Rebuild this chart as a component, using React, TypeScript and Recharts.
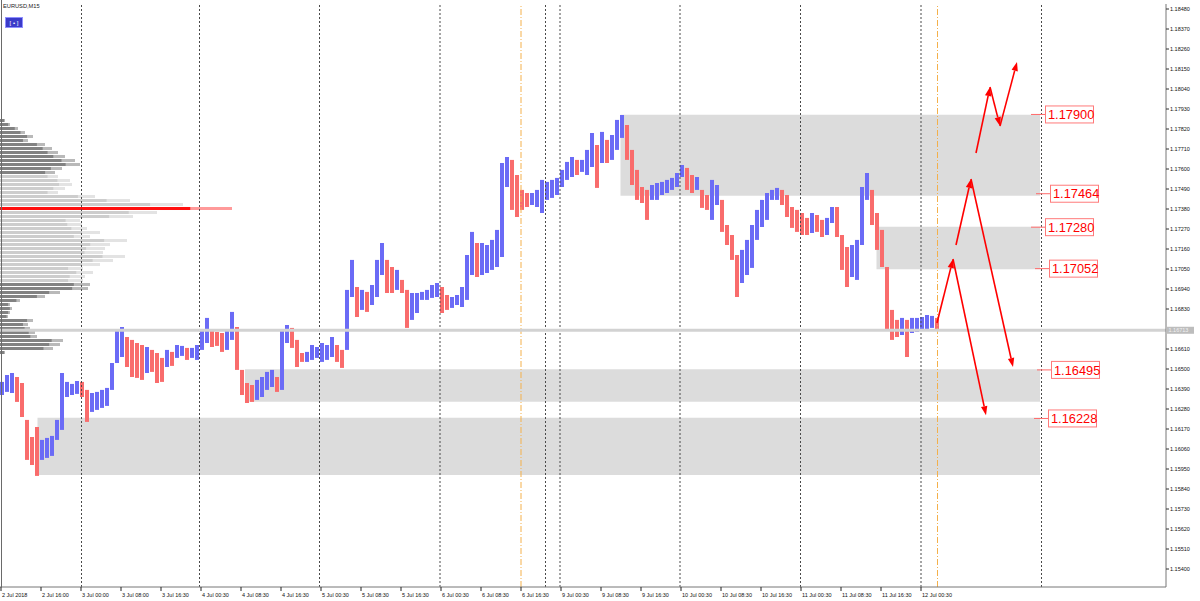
import React from 'react';
import {
  ComposedChart, BarChart, Bar, XAxis, YAxis, ReferenceArea, ReferenceLine, ReferenceDot, Cell,
} from 'recharts';

const W = 1200;
const H = 601;
const PRICE_DOMAIN: [number, number] = [1.15301, 1.185075];
const HOUR_DOMAIN: [number, number] = [0, 233.2];

// hourly high / low of EURUSD (1 slot = 1 hour, from 2 Jul 2018)
const candleHighs = [
  1.16429, 1.16467, 1.16478, 1.16456, 1.16423, 1.16220, 1.16126, 1.16181, 1.16110, 1.16121,
  1.16132, 1.16220, 1.16478, 1.16429, 1.16418, 1.16434, 1.16429, 1.16385, 1.16368, 1.16374,
  1.16385, 1.16396, 1.16533, 1.16715, 1.16731, 1.16676, 1.16660, 1.16643, 1.16632, 1.16621,
  1.16605, 1.16588, 1.16561, 1.16605, 1.16594, 1.16632, 1.16627, 1.16616, 1.16616, 1.16632,
  1.16715, 1.16781, 1.16715, 1.16704, 1.16698, 1.16715, 1.16814, 1.16731, 1.16495, 1.16423,
  1.16412, 1.16440, 1.16456, 1.16484, 1.16495, 1.16456, 1.16715, 1.16742, 1.16726, 1.16660,
  1.16588, 1.16594, 1.16632, 1.16621, 1.16643, 1.16632, 1.16676, 1.16632, 1.16605, 1.16935,
  1.17100, 1.16951, 1.16935, 1.16924, 1.16962, 1.17100, 1.17193, 1.17100, 1.17061, 1.17045,
  1.16990, 1.16935, 1.16918, 1.16918, 1.16924, 1.16935, 1.16962, 1.16973, 1.16951, 1.16907,
  1.16896, 1.16907, 1.16951, 1.17127, 1.17254, 1.17193, 1.17193, 1.17182, 1.17210, 1.17265,
  1.17633, 1.17666, 1.17650, 1.17567, 1.17485, 1.17468, 1.17468, 1.17485, 1.17540, 1.17529,
  1.17540, 1.17551, 1.17595, 1.17639, 1.17666, 1.17650, 1.17650, 1.17705, 1.17798, 1.17732,
  1.17804, 1.17760, 1.17787, 1.17870, 1.17897, 1.17842, 1.17705, 1.17595, 1.17501, 1.17485,
  1.17512, 1.17523, 1.17529, 1.17540, 1.17551, 1.17578, 1.17622, 1.17606, 1.17567, 1.17556,
  1.17485, 1.17457, 1.17540, 1.17512, 1.17430, 1.17292, 1.17237, 1.17127, 1.17155, 1.17210,
  1.17292, 1.17375, 1.17430, 1.17468, 1.17485, 1.17496, 1.17485, 1.17457, 1.17391, 1.17375,
  1.17358, 1.17331, 1.17358, 1.17347, 1.17320, 1.17331, 1.17391, 1.17391, 1.17237, 1.17171,
  1.17182, 1.17210, 1.17501, 1.17578, 1.17485, 1.17358, 1.17265, 1.17061, 1.16825, 1.16770,
  1.16781, 1.16770, 1.16781, 1.16781, 1.16786, 1.16797, 1.16792, 1.16781,
];
const candleLows = [
  1.16357, 1.16374, 1.16368, 1.16319, 1.16236, 1.16000, 1.15972, 1.15912, 1.16000, 1.16011,
  1.16022, 1.16110, 1.16165, 1.16346, 1.16357, 1.16363, 1.16346, 1.16209, 1.16264, 1.16275,
  1.16286, 1.16297, 1.16385, 1.16533, 1.16566, 1.16511, 1.16456, 1.16451, 1.16440, 1.16478,
  1.16484, 1.16423, 1.16429, 1.16511, 1.16517, 1.16561, 1.16572, 1.16550, 1.16561, 1.16550,
  1.16605, 1.16643, 1.16621, 1.16627, 1.16594, 1.16605, 1.16660, 1.16495, 1.16357, 1.16313,
  1.16319, 1.16330, 1.16346, 1.16385, 1.16401, 1.16374, 1.16385, 1.16643, 1.16616, 1.16511,
  1.16539, 1.16539, 1.16550, 1.16561, 1.16539, 1.16550, 1.16566, 1.16539, 1.16506, 1.16605,
  1.16896, 1.16786, 1.16825, 1.16814, 1.16852, 1.16896, 1.17017, 1.16918, 1.16918, 1.16935,
  1.16918, 1.16726, 1.16770, 1.16808, 1.16880, 1.16880, 1.16891, 1.16896, 1.16808, 1.16825,
  1.16836, 1.16852, 1.16841, 1.16880, 1.17017, 1.17006, 1.17017, 1.17028, 1.17045, 1.17061,
  1.17116, 1.17501, 1.17375, 1.17336, 1.17375, 1.17391, 1.17402, 1.17391, 1.17358, 1.17430,
  1.17441, 1.17457, 1.17501, 1.17540, 1.17556, 1.17567, 1.17584, 1.17567, 1.17611, 1.17496,
  1.17633, 1.17633, 1.17650, 1.17705, 1.17771, 1.17650, 1.17512, 1.17430, 1.17413, 1.17320,
  1.17430, 1.17430, 1.17457, 1.17468, 1.17485, 1.17501, 1.17556, 1.17485, 1.17468, 1.17485,
  1.17386, 1.17375, 1.17320, 1.17402, 1.17254, 1.17182, 1.17100, 1.16896, 1.16973, 1.17017,
  1.17056, 1.17210, 1.17281, 1.17320, 1.17430, 1.17430, 1.17402, 1.17336, 1.17276, 1.17254,
  1.17237, 1.17237, 1.17248, 1.17254, 1.17226, 1.17237, 1.17303, 1.17226, 1.17045, 1.16951,
  1.17006, 1.16990, 1.17182, 1.17430, 1.17292, 1.17155, 1.17061, 1.16715, 1.16660, 1.16676,
  1.16687, 1.16566, 1.16698, 1.16704, 1.16715, 1.16715, 1.16726, 1.16720,
];

const priceTicks = [
  1.15400, 1.15510, 1.15620, 1.15730, 1.15840, 1.15950, 1.16060, 1.16170, 1.16280, 1.16390,
  1.16500, 1.16610, 1.16830, 1.16940, 1.17050, 1.17160, 1.17270, 1.17380, 1.17490, 1.17600,
  1.17710, 1.17820, 1.17930, 1.18040, 1.18150, 1.18260, 1.18370, 1.18480,
];

const timeTickHours = [
  0.2, 8.2, 16.2, 24.2, 32.2, 40.2, 48.2, 56.2, 64.2, 72.2, 80.2, 88.2,
  96.2, 104.2, 112.2, 120.2, 128.2, 136.2, 144.2, 152.2, 160.2, 168.2, 176.2, 184.2,
];
const timeTickLabels = [
  '2 Jul 2018', '2 Jul 16:00', '3 Jul 00:00', '3 Jul 08:00', '3 Jul 16:30', '4 Jul 00:30',
  '4 Jul 08:30', '4 Jul 16:30', '5 Jul 00:30', '5 Jul 08:30', '5 Jul 16:30', '6 Jul 00:30',
  '6 Jul 08:30', '6 Jul 16:30', '9 Jul 00:30', '9 Jul 08:30', '9 Jul 16:30', '10 Jul 00:30',
  '10 Jul 08:30', '10 Jul 16:30', '11 Jul 00:30', '11 Jul 08:30', '11 Jul 16:30', '12 Jul 00:30',
];

const daySeparatorHours = [16.3, 39.9, 63.9, 88, 109.1, 112, 136, 160.1, 184.2, 208.3];
const sessionMarkerHours = [104.2, 187.5];

const currentPrice = 1.16713;

// zones: [fromHour, toHour, lowPrice, highPrice]
const zones: [number, number, number, number][] = [
  [124.1, 208, 1.17453, 1.17899],
  [175.3, 208, 1.17049, 1.17283],
  [49, 208, 1.16320, 1.16498],
  [7.5, 208, 1.15917, 1.16232],
];

const tagPrices = [1.179, 1.17464, 1.1728, 1.17052, 1.16495, 1.16228];
const tagHours = [206.2, 207.2, 206.2, 207.0, 207.4, 206.8];

// forecast arrows: [fromHour, fromPrice, toHour, toPrice]
const forecastArrows: [number, number, number, number][] = [
  [187.4, 1.16753, 190.6, 1.17105],
  [191.2, 1.17182, 194.2, 1.17545],
  [194.2, 1.17545, 202.6, 1.16511],
  [190.6, 1.17105, 197.2, 1.16246],
  [195.2, 1.17688, 198.0, 1.18051],
  [198.0, 1.18051, 200.0, 1.17836],
  [200.0, 1.17836, 203.4, 1.18189],
];

// volume profile
const profileLevels = [
  1.17864, 1.17842, 1.17820, 1.17798, 1.17776, 1.17754, 1.17732, 1.17710, 1.17688, 1.17666,
  1.17644, 1.17622, 1.17600, 1.17578, 1.17556, 1.17534, 1.17512, 1.17490, 1.17468, 1.17446,
  1.17424, 1.17402, 1.17380, 1.17358, 1.17336, 1.17314, 1.17292, 1.17270, 1.17248, 1.17226,
  1.17204, 1.17182, 1.17160, 1.17138, 1.17116, 1.17094, 1.17072, 1.17050, 1.17028, 1.17006,
  1.16984, 1.16962, 1.16940, 1.16918, 1.16896, 1.16874, 1.16852, 1.16830, 1.16808, 1.16786,
  1.16764, 1.16742, 1.16720, 1.16698, 1.16676, 1.16654, 1.16632, 1.16610, 1.16588,
];
const profileVolumes = [
  5, 10, 18, 25, 33, 28, 45, 52, 58, 65,
  75, 80, 62, 55, 58, 70, 72, 65, 58, 95,
  130, 183, 232, 157, 133, 80, 82, 87, 100, 90,
  127, 110, 105, 103, 125, 113, 100, 83, 93, 85,
  83, 90, 88, 60, 45, 20, 10, 12, 10, 8,
  33, 28, 30, 35, 37, 63, 60, 53, 5,
];
const pocLevel = 1.1738;
const valueAreaHigh = 1.17556;
const valueAreaLow = 1.16984;

const BLUE = '#6b6bf6';
const RED = '#f96c6c';

const candles = candleHighs.map((h, i) => {
  const l = candleLows[i];
  const prevMid = i === 0 ? h + l : candleHighs[i - 1] + candleLows[i - 1];
  return { t: i + 0.5, range: [l, h], up: h + l >= prevMid };
});

const profile = profileLevels.map((level, i) => ({ level, vol: profileVolumes[i] }));

const FONT = '"Liberation Sans", Arial, sans-serif';

const TimeTick = (props: any) => {
  const { x, y, payload } = props;
  const idx = timeTickHours.indexOf(payload.value);
  return (
    <text x={x + 1} y={y + 4} fontSize={5.5} fill="#111" textAnchor="start" fontFamily={FONT}>
      {timeTickLabels[idx]}
    </text>
  );
};

const ArrowShape = (props: any) => {
  const { x1, y1, x2, y2 } = props;
  if ([x1, y1, x2, y2].some((v) => typeof v !== 'number' || isNaN(v))) return null;
  const dx = x2 - x1;
  const dy = y2 - y1;
  const len = Math.sqrt(dx * dx + dy * dy) || 1;
  const ux = dx / len;
  const uy = dy / len;
  const hl = 9;
  const hw = 3.2;
  const bx = x2 - ux * hl;
  const by = y2 - uy * hl;
  const pts = `${x2},${y2} ${bx - uy * hw},${by + ux * hw} ${bx + uy * hw},${by - ux * hw}`;
  return (
    <g>
      <line x1={x1} y1={y1} x2={bx} y2={by} stroke="#ff0000" strokeWidth={1.6} />
      <polygon points={pts} fill="#ff0000" />
    </g>
  );
};

const PriceTag = ({ cx, cy, text }: any) => (
  <g>
    <line x1={cx} y1={cy} x2={cx + 14} y2={cy} stroke="#ff6a6a" strokeWidth={1} />
    <rect x={cx + 14.5} y={cy - 8.5} width={48} height={17} fill="#ffffff" stroke="#ff7a7a" strokeWidth={1} />
    <text x={cx + 17} y={cy + 4.6} fontSize={12.8} fill="#ff0000" fontFamily={FONT}>{text}</text>
  </g>
);

const CurrentTag = ({ cx, cy }: any) => (
  <g>
    <rect x={cx + 1} y={cy - 3.5} width={27} height={7} fill="#bdbdbd" />
    <text x={cx + 2.5} y={cy + 2} fontSize={5.5} fill="#f2f2f2" fontFamily={FONT}>{currentPrice.toFixed(5)}</text>
  </g>
);

const ProfileBar = (props: any) => {
  const { x, y, width, height, payload } = props;
  if (typeof x !== 'number' || typeof y !== 'number') return null;
  const lvl = payload.level;
  let dark = '#828282';
  let light = '#b9b9b9';
  if (Math.abs(lvl - pocLevel) < 1e-6) {
    dark = '#ff1010';
    light = '#ff9a9a';
  } else if (lvl <= valueAreaHigh && lvl >= valueAreaLow) {
    dark = '#cdcdcd';
    light = '#e3e3e3';
  }
  return (
    <g>
      <rect x={x} y={y} width={width} height={height} fill={light} />
      <rect x={x} y={y} width={width * 0.82} height={height} fill={dark} />
    </g>
  );
};

export default function App() {
  return (
    <div style={{ position: 'absolute', left: 0, top: 0, width: W, height: H, background: '#fff', fontFamily: FONT, overflow: 'hidden' }}>
      <div style={{ position: 'absolute', left: 0, top: 0 }}>
        <BarChart width={W} height={H} data={profile} layout="vertical" margin={{ top: 4, right: 34, bottom: 14, left: 0 }}>
          <XAxis type="number" domain={[0, 1166]} hide allowDataOverflow />
          <YAxis type="number" dataKey="level" domain={PRICE_DOMAIN} hide allowDataOverflow reversed />
          <Bar dataKey="vol" barSize={3} isAnimationActive={false} shape={ProfileBar} />
        </BarChart>
      </div>
      <div style={{ position: 'absolute', left: 0, top: 0 }}>
        <ComposedChart width={W} height={H} data={candles} margin={{ top: 4, right: 0, bottom: 0, left: 0 }}>
          <XAxis
            dataKey="t"
            type="number"
            domain={HOUR_DOMAIN}
            allowDataOverflow
            ticks={timeTickHours}
            interval={0}
            tick={TimeTick}
            tickSize={4}
            height={14}
            axisLine={{ stroke: '#777' }}
            tickLine={{ stroke: '#222' }}
          />
          <YAxis
            orientation="right"
            type="number"
            domain={PRICE_DOMAIN}
            allowDataOverflow
            ticks={priceTicks}
            interval={0}
            tickFormatter={(v: number) => v.toFixed(5)}
            width={34}
            tickSize={3}
            tickMargin={1}
            tick={{ fontSize: 5.5, fill: '#111', fontFamily: FONT }}
            axisLine={{ stroke: '#777' }}
            tickLine={{ stroke: '#333' }}
          />
          {zones.map(([x1, x2, y1, y2], i) => (
            <ReferenceArea key={`z${i}`} x1={x1} x2={x2} y1={y1} y2={y2} fill="#dcdcdc" fillOpacity={1} stroke="none" />
          ))}
          {daySeparatorHours.map((h, i) => (
            <ReferenceLine key={`d${i}`} x={h} stroke="#4a4a4a" strokeDasharray="2 2" strokeWidth={1} />
          ))}
          {sessionMarkerHours.map((h, i) => (
            <ReferenceLine key={`s${i}`} x={h} stroke="#f4b04a" strokeDasharray="6 2 1 2" strokeWidth={1} />
          ))}
          <ReferenceLine y={currentPrice} stroke="#d2d2d2" strokeWidth={3} />
          <Bar dataKey="range" barSize={4} isAnimationActive={false}>
            {candles.map((c, i) => (
              <Cell key={`c${i}`} fill={c.up ? BLUE : RED} />
            ))}
          </Bar>
          {forecastArrows.map(([hx1, py1, hx2, py2], i) => (
            <ReferenceLine
              key={`a${i}`}
              segment={[{ x: hx1, y: py1 }, { x: hx2, y: py2 }]}
              stroke="#ff0000"
              shape={(p: any) => <ArrowShape {...p} />}
            />
          ))}
          {tagPrices.map((p, i) => (
            <ReferenceDot
              key={`t${i}`}
              x={tagHours[i]}
              y={p}
              r={1}
              shape={(sp: any) => <PriceTag cx={sp.cx} cy={sp.cy} text={p.toFixed(5)} />}
            />
          ))}
          <ReferenceDot
            x={HOUR_DOMAIN[1]}
            y={currentPrice}
            r={1}
            ifOverflow="visible"
            shape={(sp: any) => <CurrentTag cx={sp.cx} cy={sp.cy} />}
          />
        </ComposedChart>
      </div>
      <svg width={60} height={32} style={{ position: 'absolute', left: 0, top: 0 }}>
        <text x={3} y={8} fontSize={5.7} fill="#222" fontFamily={FONT}>EURUSD,M15</text>
        <rect x={5.5} y={17.5} width={17} height={10} fill="#3b3bc9" stroke="#8f8fff" strokeWidth={1} />
        <text x={14} y={24.5} fontSize={6} fill="#ffffff" textAnchor="middle" fontFamily={FONT}>[ • ]</text>
      </svg>
      <div style={{ position: 'absolute', left: 1, top: 0, width: 1, height: 587, background: '#6a6a6a' }} />
    </div>
  );
}
